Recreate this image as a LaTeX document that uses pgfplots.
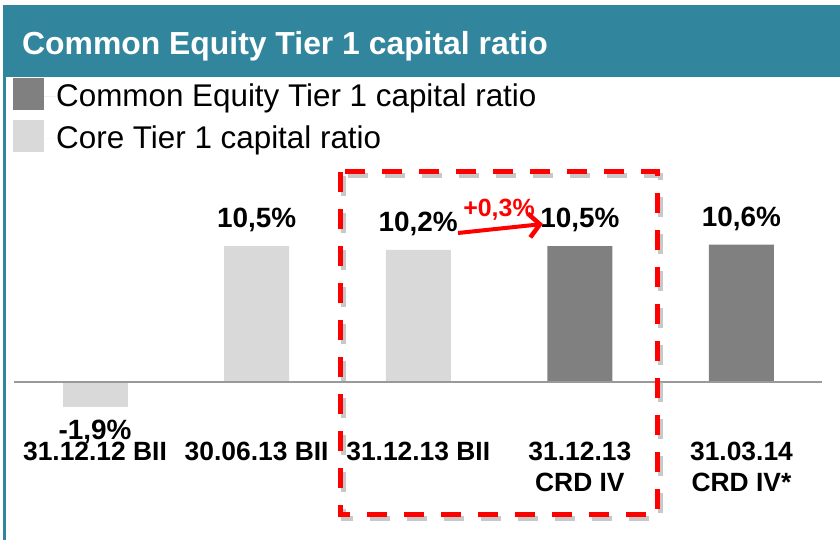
\documentclass[border=0pt]{standalone}
\usepackage{pgfplots}
\pgfplotsset{compat=1.18}
\usetikzlibrary{arrows.meta}
\usepackage{fontspec}
\setmainfont{Liberation Sans}
\definecolor{teal}{HTML}{31859C}
\definecolor{darkbar}{HTML}{808080}
\definecolor{lightbar}{HTML}{D9D9D9}
\begin{document}
\begin{tikzpicture}
\useasboundingbox[fill=white] (0,0) rectangle (840bp,540bp);
\begin{scope}[x=1bp,y=-1bp,yshift=540bp]
\fill[teal] (3,5) rectangle (840,77);
\fill[teal] (3,5) rectangle (6,540);
\node[white, font=\fontsize{32}{36}\selectfont\bfseries, anchor=base west, inner sep=0pt] at (22,54.5) {Common Equity Tier 1 capital ratio};
\end{scope}
\begin{axis}[
  at={(14.2bp,119.15bp)}, anchor=south west,
  scale only axis, width=808.1bp, height=194.25bp,
  xmin=-0.5, xmax=4.5, ymin=-3, ymax=12,
  axis line style={draw=none}, ytick=\empty, xtick={0,1,2,3,4},
  major tick length=0pt,
  xticklabels={{31.12.12 BII},{30.06.13 BII},{31.12.13 BII},{31.12.13\\CRD IV},{31.03.14\\CRD IV*}},
  xticklabel style={font=\fontsize{26.5}{31}\selectfont\bfseries, align=center, inner sep=0pt, anchor=north, yshift=-21bp},
  ybar, bar width=65bp, bar shift=0pt,
  point meta=explicit symbolic,
  nodes near coords,
  nodes near coords style={font=\fontsize{28}{30}\selectfont\bfseries, inner ysep=13bp, inner xsep=0pt, text depth=5bp, anchor=south},
  legend cell align=left,
  legend style={at={(axis description cs:-0.00148,1.7635)}, anchor=north west, draw=none, fill=none, inner sep=0pt, row sep=6bp, font=\fontsize{31.5}{36}\selectfont, nodes={inner sep=0pt, text height=28bp, text depth=8bp}},
  legend image code/.code={\fill[#1] (0bp,-14bp) rectangle (31bp,18bp); \path (0bp,0bp) -- (43bp,0bp);},
  clip=false,
]
\addplot[fill=darkbar, draw=none] coordinates {(3,10.5) [{10,5\%}] (4,10.6) [{10,6\%}]};
\addplot[fill=lightbar, draw=none] coordinates {(1,10.5) [{10,5\%}] (2,10.2) [{10,2\%}]};
\addplot[fill=lightbar, draw=none, forget plot, nodes near coords style={anchor=north}] coordinates {(0,-1.9) [{-1,9\%}]};
\legend{Common Equity Tier 1 capital ratio, Core Tier 1 capital ratio}
\draw[color=black!40, line width=1.5bp] (axis cs:-0.5,0) -- (axis cs:4.5,0);
\end{axis}
\begin{scope}[x=1bp,y=-1bp,yshift=540bp]
\draw[black!30, opacity=0.7, line width=5bp, dash pattern=on 20bp off 17bp] (343,176) rectangle (660,519);
\draw[red, line width=5bp, dash pattern=on 20bp off 17bp] (340,172) rectangle (657,515);
\draw[red, line width=4bp, -{Straight Barb[length=11bp,width=24bp,line width=4.5bp]}] (458,233) -- (543,224);
\node[red, font=\fontsize{25}{28}\selectfont\bfseries, anchor=base, inner sep=0pt] at (499,217) {+0,3\%};
\end{scope}
\end{tikzpicture}
\end{document}
